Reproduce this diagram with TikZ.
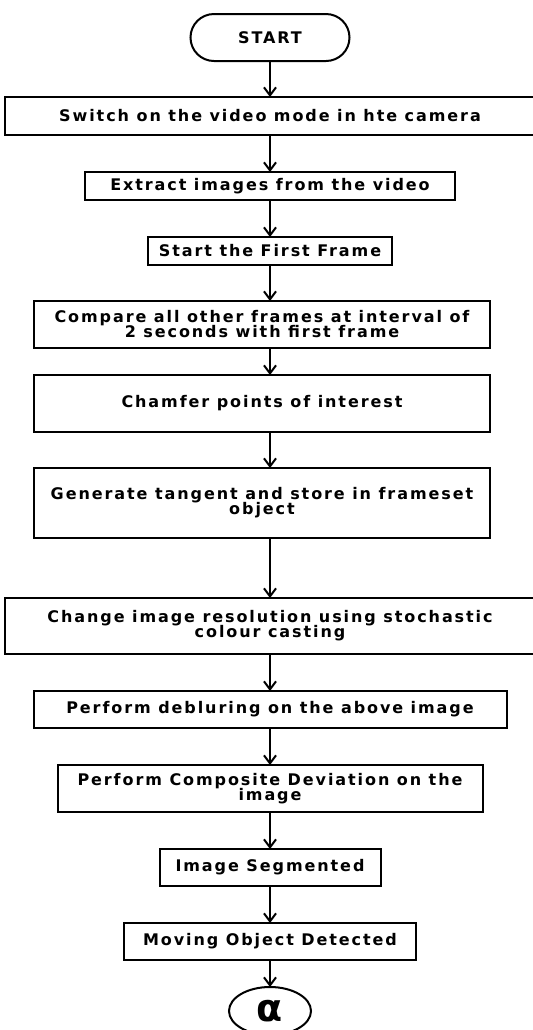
\documentclass[tikz,border=0pt]{standalone}
\usepackage{fontspec}
\newfontfamily\flowfont[LetterSpace=12.0]{DejaVu Sans}
\newcommand\flowsize{\fontsize{8}{7.5}\selectfont\lineskiplimit=-5pt\relax}
\usetikzlibrary{positioning,shapes.geometric,arrows.meta}

\begin{document}
\begin{tikzpicture}[x=0.5pt,y=-0.5pt,>={Straight Barb[length=4pt,width=6pt]},
    node distance=18.5pt,line width=1pt,
    every node/.style={font=\flowfont\bfseries\flowsize,
      align=center,inner sep=0pt,outer sep=0pt},
    blk/.style={draw,rectangle},
    term/.style={draw,rectangle,rounded corners=11.75pt}]
    \clip (0,0) rectangle (533,1030);
    \node[term,minimum width=79.5pt,minimum height=23.5pt] (start) at (270,37.5) {START};
    \node[blk,below=18pt of start,minimum width=265pt,minimum height=19pt] (b1)
      {Switch on the video mode in hte camera};
    \node[blk,below=of b1,minimum width=185pt,minimum height=14pt] (b2)
      {Extract images from the video};
    \node[blk,below=of b2,minimum width=122pt,minimum height=14pt] (b3)
      {Start the First Frame};
    \node[blk,below=18pt of b3,xshift=-4pt,minimum width=228pt,minimum height=23.5pt] (b4)
      {Compare all other frames at interval of\\2 seconds with first frame};
    \node[blk,below=13.5pt of b4,minimum width=228pt,minimum height=28.5pt] (b5)
      {Chamfer points of interest};
    \node[blk,below=18pt of b5,minimum width=228pt,minimum height=35pt] (b6)
      {Generate tangent and store in frameset\\object};
    \node[blk,below=30pt of b6,xshift=4pt,minimum width=265pt,minimum height=28pt] (b7)
      {Change image resolution using stochastic\\colour casting};
    \node[blk,below=of b7,minimum width=236.5pt,minimum height=18.5pt] (b8)
      {Perform debluring on the above image};
    \node[blk,below=of b8,minimum width=212.5pt,minimum height=23.5pt] (b9)
      {Perform Composite Deviation on the\\image};
    \node[blk,below=of b9,minimum width=110.5pt,minimum height=18.5pt] (b10)
      {Image Segmented};
    \node[blk,below=of b10,minimum width=146pt,minimum height=18.5pt] (b11)
      {Moving Object Detected};
    \node[draw,ellipse,below=13.5pt of b11,minimum width=41pt,minimum height=24pt,
      font=\flowfont\bfseries\fontsize{19}{19}\selectfont] (alpha) {α};
    % connectors
    \foreach \a/\b in {start/b1,b1/b2,b2/b3,b3/b4,b4/b5,b5/b6,b6/b7,b7/b8,b8/b9,
      b9/b10,b10/b11,b11/alpha}
      \draw[->] (\a.south -| start) -- (\b.north -| start);
  \end{tikzpicture}
\end{document}
